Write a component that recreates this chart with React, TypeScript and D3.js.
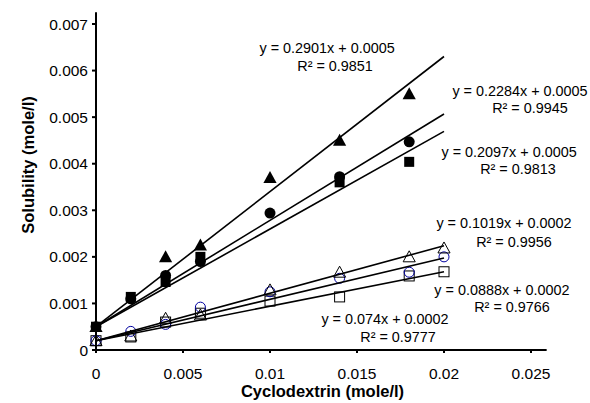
import React from "react";
import * as d3 from "d3";

// ---- data ----
const xTicks = [0, 0.005, 0.01, 0.015, 0.02, 0.025];
const xTickLabels = ["0", "0.005", "0.01", "0.015", "0.02", "0.025"];
const yTicks = [0, 0.001, 0.002, 0.003, 0.004, 0.005, 0.006, 0.007];
const yTickLabels = ["0", "0.001", "0.002", "0.003", "0.004", "0.005", "0.006", "0.007"];

const filledSquareX = [0, 0.002, 0.004, 0.006, 0.014, 0.018];
const filledSquareY = [0.0005, 0.00114, 0.00146, 0.002, 0.0036, 0.00404];
const filledCircleX = [0, 0.002, 0.004, 0.006, 0.01, 0.014, 0.018];
const filledCircleY = [0.0005, 0.0011, 0.0016, 0.0019, 0.00294, 0.00372, 0.00447];
const filledTriangleX = [0, 0.004, 0.006, 0.01, 0.014, 0.018];
const filledTriangleY = [0.0005, 0.002, 0.00225, 0.0037, 0.0045, 0.0055];

const openX = [0, 0.002, 0.004, 0.006, 0.01, 0.014, 0.018, 0.02];
const openSquareY = [0.0002, 0.00028, 0.0006, 0.00079, 0.00105, 0.00114, 0.00159, 0.00168];
const openCircleY = [0.0002, 0.0004, 0.00055, 0.00092, 0.00125, 0.00154, 0.00167, 0.002];
const openTriangleY = [0.0002, 0.0003, 0.00068, 0.00075, 0.00129, 0.00167, 0.002, 0.00219];

// trendlines: slope, intercept, R², drawn from 0 to lineEnd
const trendSlopes = [0.2901, 0.2284, 0.2097, 0.1019, 0.0888, 0.074];
const trendIntercepts = [0.0005, 0.0005, 0.0005, 0.0002, 0.0002, 0.0002];
const trendR2 = ["0.9851", "0.9945", "0.9813", "0.9956", "0.9766", "0.9777"];
const trendEquations = [
  "y = 0.2901x + 0.0005",
  "y = 0.2284x + 0.0005",
  "y = 0.2097x + 0.0005",
  "y = 0.1019x + 0.0002",
  "y = 0.0888x + 0.0002",
  "y = 0.074x + 0.0002",
];
const lineEnd = 0.02;

// label anchors in data units (centre of text)
const eqAnchorX = [0.01328, 0.02437, 0.02374, 0.02345, 0.02333, 0.01661];
const eqAnchorY = [0.00648, 0.00556, 0.00425, 0.00273, 0.00129, 0.00066];
const r2AnchorX = [0.01374, 0.02494, 0.02425, 0.02402, 0.02391, 0.01736];
const r2AnchorY = [0.0061, 0.0052, 0.00389, 0.00232, 0.00092, 0.00028];

const W = 590;
const H = 403;
const FONT = "'Liberation Sans', Arial, sans-serif";

export default function App() {
  const x = d3.scaleLinear().domain([0, 0.025]).range([96, 531]);
  const y = d3.scaleLinear().domain([0, 0.007]).range([350, 24]);
  const xAxisEnd = x(0.0259);
  const yAxisTop = y(0.00725);

  const sq = 10;
  const tri = (cx: number, cy: number, s: number) =>
    `M${cx},${cy - s * 0.55}L${cx + s * 0.55},${cy + s * 0.45}L${cx - s * 0.55},${cy + s * 0.45}Z`;

  const zip = (xs: number[], ys: number[]) => xs.map((v, i) => [v, ys[i]] as [number, number]);

  return (
    <svg
      width={W}
      height={H}
      style={{ position: "absolute", left: 0, top: 0, background: "#fff" }}
      fontFamily={FONT}
    >
      <rect x={0} y={0} width={W} height={H} fill="#fff" />

      {/* open markers */}
      {zip(openX, openSquareY).map(([a, b], i) => (
        <rect key={"os" + i} x={x(a) - 5} y={y(b) - 5} width={sq} height={sq} fill="none" stroke="#000" strokeWidth={1} />
      ))}
      {zip(openX, openCircleY).map(([a, b], i) => (
        <circle key={"oc" + i} cx={x(a)} cy={y(b)} r={5} fill="none" stroke="#0000a0" strokeWidth={1} />
      ))}
      {zip(openX, openTriangleY).map(([a, b], i) => (
        <path key={"ot" + i} d={tri(x(a), y(b), 11)} fill="none" stroke="#000" strokeWidth={1} />
      ))}

      {/* filled markers */}
      {zip(filledCircleX, filledCircleY).map(([a, b], i) => (
        <circle key={"fc" + i} cx={x(a)} cy={y(b)} r={5.5} fill="#000" />
      ))}
      {zip(filledSquareX, filledSquareY).map(([a, b], i) => (
        <rect key={"fs" + i} x={x(a) - 5} y={y(b) - 5} width={sq} height={sq} fill="#000" />
      ))}
      {zip(filledTriangleX, filledTriangleY).map(([a, b], i) => (
        <path key={"ft" + i} d={tri(x(a), y(b), 12)} fill="#000" />
      ))}

      {/* trendlines */}
      {trendSlopes.map((m, i) => (
        <line
          key={"tl" + i}
          x1={x(0)}
          y1={y(trendIntercepts[i])}
          x2={x(lineEnd)}
          y2={y(m * lineEnd + trendIntercepts[i])}
          stroke="#000"
          strokeWidth={1.6}
        />
      ))}

      {/* axes */}
      <line x1={x(0)} y1={y(0)} x2={xAxisEnd} y2={y(0)} stroke="#000" strokeWidth={2} />
      <line x1={x(0)} y1={y(0) + 3} x2={x(0)} y2={yAxisTop} stroke="#000" strokeWidth={2} />
      {yTicks.map((t, i) => (
        <g key={"yt" + i}>
          <line x1={x(0) - 4} x2={x(0)} y1={y(t)} y2={y(t)} stroke="#000" strokeWidth={2} />
          <text x={x(0) - 8} y={y(t)} textAnchor="end" dominantBaseline="central" fontSize={15.5}>
            {yTickLabels[i]}
          </text>
        </g>
      ))}
      {xTicks.map((t, i) => (
        <g key={"xt" + i}>
          <line x1={x(t)} x2={x(t)} y1={y(0)} y2={y(0) + 3} stroke="#000" strokeWidth={2} />
          <text x={x(t)} y={y(0) + 23} textAnchor="middle" dominantBaseline="central" fontSize={15.5}>
            {xTickLabels[i]}
          </text>
        </g>
      ))}

      {/* axis titles */}
      <text x={322.5} y={391} textAnchor="middle" dominantBaseline="central" fontSize={16.5} fontWeight="bold">
        Cyclodextrin (mole/l)
      </text>
      <text
        transform="translate(28,165) rotate(-90)"
        textAnchor="middle"
        dominantBaseline="central"
        fontSize={16.5}
        fontWeight="bold"
      >
        Solubility (mole/l)
      </text>

      {/* trendline labels */}
      {trendEquations.map((eq, i) => (
        <g key={"lab" + i}>
          <text x={x(eqAnchorX[i])} y={y(eqAnchorY[i])} textAnchor="middle" dominantBaseline="central" fontSize={14.4}>
            {eq}
          </text>
          <text x={x(r2AnchorX[i])} y={y(r2AnchorY[i])} textAnchor="middle" dominantBaseline="central" fontSize={14.4}>
            {"R² = " + trendR2[i]}
          </text>
        </g>
      ))}
    </svg>
  );
}
